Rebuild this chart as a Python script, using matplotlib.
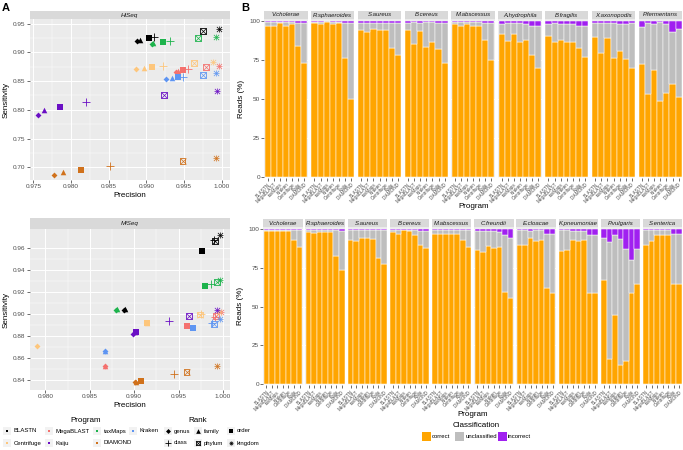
import matplotlib
matplotlib.use("Agg")
import matplotlib.pyplot as plt
from matplotlib.patches import Rectangle
import numpy as np

plt.rcParams['font.family'] = ['Liberation Sans', 'DejaVu Sans']

W, H = 683, 450

# ---- data: panel A (precision / sensitivity per program and rank) ----
programs = ["BLASTN", "MegaBLAST", "taxMaps", "Kraken", "Centrifuge", "Kaiju", "DIAMOND"]
prog_colors = ["#000000", "#F4716E", "#1DB34C", "#5E95F2", "#FDC67C", "#6A0FC4", "#D0711B"]
ranks = ["genus", "family", "order", "class", "phylum", "kingdom"]

hiseq_prec = [
    [0.9888, 0.9892, 0.9904, 0.9910, 0.9975, 0.9997],
    [0.9939, 0.9942, 0.9949, 0.9955, 0.9979, 0.9997],
    [0.9907, 0.9909, 0.9922, 0.9931, 0.9969, 0.9992],
    [0.9926, 0.9934, 0.9942, 0.9949, 0.9975, 0.9992],
    [0.9886, 0.9897, 0.9908, 0.9922, 0.9963, 0.9989],
    [0.9756, 0.9764, 0.9786, 0.9820, 0.9923, 0.9994],
    [0.9777, 0.9790, 0.9813, 0.9852, 0.9948, 0.9993],
]
hiseq_sens = [
    [0.920, 0.922, 0.925, 0.927, 0.937, 0.941],
    [0.865, 0.868, 0.869, 0.871, 0.874, 0.876],
    [0.915, 0.917, 0.918, 0.919, 0.925, 0.926],
    [0.854, 0.856, 0.857, 0.858, 0.861, 0.864],
    [0.871, 0.873, 0.874, 0.876, 0.882, 0.884],
    [0.7905, 0.800, 0.8056, 0.8137, 0.8253, 0.8334],
    [0.6872, 0.6925, 0.6953, 0.7023, 0.711, 0.7157],
]
miseq_prec = [
    [0.9888, 0.9890, 0.9976, 0.9990, 0.9991, 0.9997],
    [0.9867, 0.9867, 0.9959, 0.9991, 0.9992, 0.9998],
    [0.9880, 0.9881, 0.9980, 0.9987, 0.9993, 0.9997],
    [0.9867, 0.9867, 0.9966, 0.9988, 0.9990, 0.9997],
    [0.9791, 0.9914, 0.9915, 0.9975, 0.9974, 0.9996],
    [0.9899, 0.9901, 0.9902, 0.9939, 0.9962, 0.9993],
    [0.9901, 0.9902, 0.9908, 0.9945, 0.9959, 0.9993],
]
miseq_sens = [
    [0.904, 0.905, 0.958, 0.968, 0.967, 0.972],
    [0.8525, 0.853, 0.8892, 0.898, 0.8985, 0.9025],
    [0.9044, 0.905, 0.9255, 0.9276, 0.9295, 0.9313],
    [0.8666, 0.8668, 0.8876, 0.892, 0.891, 0.8953],
    [0.8715, 0.8925, 0.8922, 0.900, 0.8998, 0.902],
    [0.8824, 0.8835, 0.8843, 0.894, 0.8983, 0.9044],
    [0.8384, 0.8385, 0.8394, 0.8458, 0.8476, 0.8525],
]

# ---- data: panel B (reads %, per species and program) ----
bar_programs = ["BLASTN", "MegaBLAST", "taxMaps", "Kraken", "Centrifuge", "Kaiju", "DIAMOND"]
hiseq_species = ["V.cholerae", "R.sphaeroides", "S.aureus", "B.cereus", "M.abscessus",
                 "A.hydrophila", "B.fragilis", "X.axonopodis", "P.fermentans"]
hiseq_correct = [
    [97, 97, 98.5, 97, 98, 84, 73],
    [98.5, 98, 99.5, 98, 98.5, 76.5, 50],
    [94, 93, 95, 94, 94, 83, 78],
    [94.5, 85.5, 93.5, 83.5, 86.5, 82, 73],
    [97.9, 96.8, 98.1, 96.8, 97.2, 87.8, 74.9],
    [91.6, 87.4, 91.9, 86.3, 87.8, 78.2, 69.8],
    [90.6, 86.5, 88.0, 86.5, 86.5, 82.7, 76.7],
    [89.9, 79.2, 89.1, 76.2, 80.9, 75.6, 69.8],
    [72.4, 52.9, 68.7, 48.8, 53.5, 59.7, 51.0],
]
hiseq_incorrect = [
    [0.3, 0.3, 0.3, 0.3, 0.3, 1, 1],
    [0.3, 0.3, 0.2, 0.3, 0.3, 1, 1],
    [1, 1, 1, 1, 1, 1, 1],
    [1, 0.3, 1, 0.3, 0.3, 1, 1],
    [0.3, 0.3, 0.3, 0.3, 0.3, 1, 1],
    [2, 1, 1, 1, 2, 3, 3],
    [2, 1, 2, 2, 2, 3, 3],
    [1, 1, 1, 1, 2, 2, 1],
    [4, 1, 2, 0.5, 2, 7, 5],
]
miseq_species = ["V.cholerae", "R.sphaeroides", "S.aureus", "B.cereus", "M.abscessus",
                 "C.freundii", "E.cloacae", "K.pneumoniae", "P.vulgaris", "S.enterica"]
miseq_correct = [
    [98.7, 98.7, 98.7, 98.7, 98.7, 92.9, 88.6],
    [97.9, 97.6, 98.3, 97.9, 98.3, 82.8, 73.4],
    [92.9, 92.5, 94.0, 94.0, 93.8, 81.5, 77.3],
    [98.1, 97.2, 99.4, 98.7, 96.1, 90.1, 87.6],
    [97.2, 96.8, 96.8, 96.8, 96.8, 92.9, 88.6],
    [86.7, 85.4, 89.3, 87.6, 88.6, 59.2, 55.8],
    [89.7, 90.1, 94.0, 92.3, 93.1, 62.2, 58.6],
    [85.8, 86.3, 92.9, 92.3, 92.9, 58.6, 59.0],
    [67.2, 16.3, 44.6, 12.4, 15.2, 58.6, 64.6],
    [90.1, 92.3, 96.1, 96.1, 96.1, 64.4, 64.4],
]
miseq_incorrect = [
    [0.3, 0.3, 0.3, 0.3, 0.3, 0.8, 0.8],
    [0.3, 0.3, 0.5, 0.3, 0.5, 0.8, 1.5],
    [0.3, 0.3, 0.3, 0.3, 0.3, 0.5, 0.5],
    [0.3, 0.3, 0.3, 0.3, 0.3, 1.5, 1.5],
    [0.3, 0.3, 0.3, 0.3, 0.3, 0.3, 0.5],
    [1.5, 1, 1.5, 1.5, 2, 4, 6],
    [0.8, 0.5, 1.5, 0.5, 0.5, 3, 3],
    [0.8, 0.8, 1, 1.5, 1.5, 3.5, 3.5],
    [6, 8, 4, 6.5, 12.5, 20, 13],
    [0.3, 0.3, 0.3, 0.3, 0.3, 3, 3],
]
class_names = ["correct", "unclassified", "incorrect"]
class_colors = ["#FFA500", "#BEBEBE", "#A020F0"]

PANEL_BG = "#EBEBEB"
STRIP_BG = "#D9D9D9"


def box(l, t, r, b):
    return [l / W, 1 - b / H, (r - l) / W, (b - t) / H]


fig = plt.figure(figsize=(W / 100, H / 100), dpi=100)


def style_axes(ax, fs=4.6):
    ax.set_facecolor(PANEL_BG)
    for s in ax.spines.values():
        s.set_visible(False)
    ax.tick_params(length=2, width=0.5, color="#333333", labelcolor="#4D4D4D",
                   labelsize=fs, pad=1)


def strip(l, t, r, b, text, fs=4.6):
    sa = fig.add_axes(box(l, t, r, b))
    sa.set_facecolor(STRIP_BG)
    sa.set_xticks([]); sa.set_yticks([])
    for s in sa.spines.values():
        s.set_visible(False)
    sa.text(0.5, 0.5, text, ha="center", va="center", fontsize=fs,
            style="italic", color="#1A1A1A", transform=sa.transAxes)


def draw_rank(ax, x, y, rank, color, scale=1.0, lscale=1.0):
    if rank == "genus":
        ax.scatter(x, y, marker="D", s=9 * scale, color=color, lw=0, zorder=3)
    elif rank == "family":
        ax.scatter(x, y, marker="^", s=16 * scale, color=color, lw=0, zorder=3)
    elif rank == "order":
        ax.scatter(x, y, marker="s", s=14 * scale, color=color, lw=0, zorder=3)
    elif rank == "class":
        ax.scatter(x, y, marker="+", s=38 * scale * lscale, color=color, lw=0.6, zorder=3)
    elif rank == "phylum":
        ax.scatter(x, y, marker="s", s=18 * scale, facecolor="none", edgecolor=color,
                   lw=0.6, zorder=3)
        ax.scatter(x, y, marker="x", s=18 * scale, color=color, lw=0.5, zorder=3)
    else:
        ax.scatter(x, y, marker="+", s=22 * scale * lscale, color=color, lw=0.5, zorder=3)
        ax.scatter(x, y, marker="x", s=14 * scale * lscale, color=color, lw=0.5, zorder=3)


def scatter_panel(axbox, stripbox, title, prec, sens, xlim, ylim, xt, yt, yfmt):
    ax = fig.add_axes(box(*axbox))
    style_axes(ax)
    strip(*stripbox, title)
    ax.set_xlim(*xlim); ax.set_ylim(*ylim)
    ax.set_xticks(xt)
    ax.set_xticklabels(["%.3f" % v for v in xt])
    ax.set_yticks(yt)
    ax.set_yticklabels([yfmt % v for v in yt])
    ax.set_xticks((np.array(xt[:-1]) + np.array(xt[1:])) / 2, minor=True)
    ax.set_yticks((np.array(yt[:-1]) + np.array(yt[1:])) / 2, minor=True)
    ax.tick_params(which="minor", length=0)
    ax.grid(True, which="major", color="white", lw=0.7)
    ax.grid(True, which="minor", color="white", lw=0.35)
    ax.set_axisbelow(True)
    for p, col in enumerate(prog_colors):
        for r, rk in enumerate(ranks):
            draw_rank(ax, prec[p][r], sens[p][r], rk, col)
    ax.set_xlabel("Precision", fontsize=5.8, labelpad=2)
    ax.set_ylabel("Sensitivity", fontsize=5.8, labelpad=2)
    return ax


scatter_panel((29.5, 19.3, 230, 180), (29.5, 10.7, 230, 19.3), "HiSeq",
              hiseq_prec, hiseq_sens, (0.9745, 1.0011), (0.678, 0.9575),
              [0.975, 0.980, 0.985, 0.990, 0.995, 1.000],
              [0.70, 0.75, 0.80, 0.85, 0.90, 0.95], "%.2f")
scatter_panel((29.5, 229, 230, 390), (29.5, 218.3, 230, 229), "MiSeq",
              miseq_prec, miseq_sens, (0.9782, 1.0008), (0.8311, 0.9777),
              [0.980, 0.985, 0.990, 0.995, 1.000],
              [0.84, 0.86, 0.88, 0.90, 0.92, 0.94, 0.96], "%.2f")

# ---- panel A legends ----
lg = fig.add_axes([0, 0, 1, 1], facecolor="none")
lg.set_xlim(0, W); lg.set_ylim(H, 0); lg.axis("off")
lg.text(86, 420, "Program", ha="center", va="center", fontsize=5.8)
prog_pos = [(7, 431), (49, 431), (97, 431), (133, 431), (7, 443), (49, 443), (97, 443)]
for (px, py), name, col in zip(prog_pos, programs, prog_colors):
    lg.add_patch(Rectangle((px - 4, py - 4), 8, 8, color="#F2F2F2", lw=0))
    lg.scatter(px, py, marker="s", s=3, color=col, lw=0)
    lg.text(px + 7, py, name, ha="left", va="center", fontsize=4.3)
lg.text(198, 420, "Rank", ha="center", va="center", fontsize=5.8)
rank_pos = [(168, 431), (198, 431), (231, 431), (168, 443), (198, 443), (231, 443)]
for (px, py), rk in zip(rank_pos, ranks):
    lg.add_patch(Rectangle((px - 4, py - 4), 8, 8, color="#F2F2F2", lw=0))
    draw_rank(lg, px, py, rk, "black", scale=0.7, lscale=0.55)
    lg.text(px + 6, py, rk, ha="left", va="center", fontsize=4.3)

lg.text(2, 8, "A", fontsize=8, fontweight="bold", ha="left", va="center")
lg.text(241, 8, "B", fontsize=8, fontweight="bold", ha="left", va="center")


# ---- panel B bar facets ----
def bar_row(species, correct, incorrect, x0, x1, top, bottom, strip_h, gap, xlab_y):
    n = len(species)
    fw = (x1 - x0 - gap * (n - 1)) / n
    xs = np.arange(1, len(bar_programs) + 1)
    for i, sp in enumerate(species):
        l = x0 + i * (fw + gap)
        ax = fig.add_axes(box(l, top, l + fw, bottom))
        style_axes(ax, fs=4.6)
        strip(l, top - strip_h, l + fw, top, sp, fs=4.3)
        c = np.array(correct[i], dtype=float)
        w = np.array(incorrect[i], dtype=float)
        u = 100 - c - w
        ax.bar(xs, c, width=1, color=class_colors[0], edgecolor="white", lw=0.35)
        ax.bar(xs, u, bottom=c, width=1, color=class_colors[1], edgecolor="white", lw=0.35)
        ax.bar(xs, w, bottom=c + u, width=1, color=class_colors[2], edgecolor="white", lw=0.35)
        ax.set_xlim(0.45, 7.55)
        ax.set_ylim(-0.7, 101.2)
        ax.set_yticks([0, 25, 50, 75, 100])
        ax.grid(True, axis="y", color="white", lw=0.6)
        ax.set_axisbelow(True)
        ax.set_xticks(xs)
        ax.set_xticklabels(bar_programs, rotation=45, ha="right",
                           rotation_mode="anchor", fontsize=3.3)
        if i == 0:
            ax.set_ylabel("Reads (%)", fontsize=5.8, labelpad=3)
        else:
            ax.tick_params(axis="y", left=False, labelleft=False)
    lg.text((x0 + x1) / 2, xlab_y, "Program", ha="center", va="center", fontsize=5.8)


bar_row(hiseq_species, hiseq_correct, hiseq_incorrect, 264.3, 682, 19.3, 177.7, 8.6, 3.5, 207)
bar_row(miseq_species, miseq_correct, miseq_incorrect, 263.3, 682.3, 227.3, 385.3, 8.3, 2.9, 415)

lg.text(476, 425.7, "Classification", ha="center", va="center", fontsize=5.8)
cls_pos = [421.7, 455, 497.5]
for px, name, col in zip(cls_pos, class_names, class_colors):
    lg.add_patch(Rectangle((px, 432.3), 9, 9, color=col, lw=0))
    lg.text(px + 10.5, 436.8, name, ha="left", va="center", fontsize=4.3)

fig.savefig("out.png", dpi=100)
